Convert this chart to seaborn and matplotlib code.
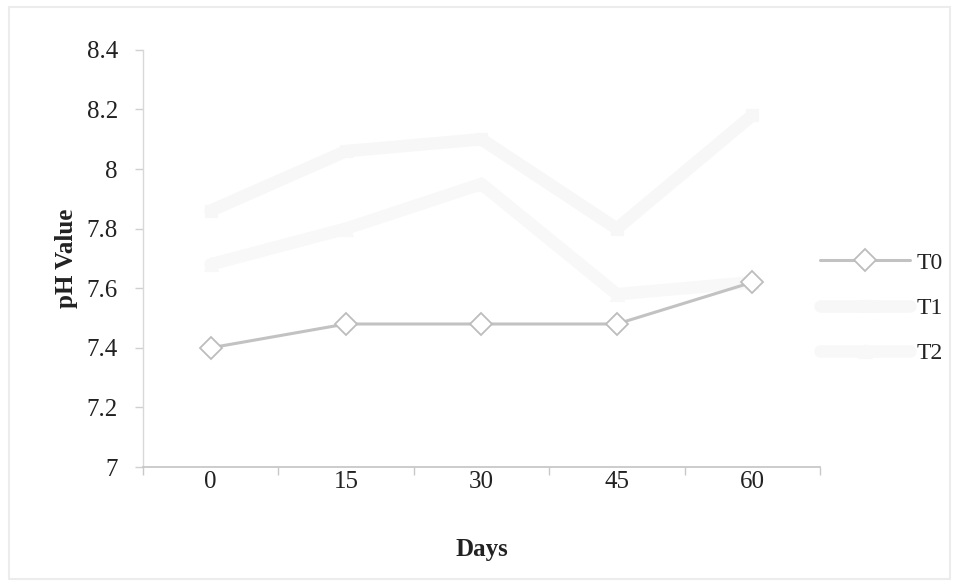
import matplotlib
matplotlib.use("Agg")
import matplotlib.pyplot as plt
import matplotlib.ticker as mticker
import numpy as np
import pandas as pd
import seaborn as sns

# Sampling days and measured pH per treatment
days = ["0", "15", "30", "45", "60"]
t0_ph = [7.40, 7.48, 7.48, 7.48, 7.62]
t1_ph = [7.86, 8.06, 8.10, 7.80, 8.18]
t2_ph = [7.68, 7.80, 7.95, 7.58, 7.62]
y_ticks = [7.0, 7.2, 7.4, 7.6, 7.8, 8.0, 8.2, 8.4]

series = {"T0": t0_ph, "T1": t1_ph, "T2": t2_ph}
frames = []
for name, vals in series.items():
    frames.append(pd.DataFrame({"pos": np.arange(len(days)), "Days": days,
                                "pH": vals, "Treatment": name}))
df = pd.concat(frames, ignore_index=True)

sns.set_theme(style="white")
plt.rcParams["font.family"] = ["Liberation Serif", "DejaVu Serif"]

fig = plt.figure(figsize=(9.59, 5.86), dpi=100)
fig.patch.set_facecolor("white")
ax = fig.add_axes([0.149, 0.203, 0.706, 0.712])

styles = {
    "T0": dict(color="#c2c2c2", marker="D", markersize=11, linewidth=2.2,
               markerfacecolor="white", markeredgecolor="#bdbdbd",
               markeredgewidth=1.3),
    "T1": dict(color="#f7f7f7", marker="s", markersize=9, linewidth=9,
               markerfacecolor="#f7f7f7", markeredgecolor="#f7f7f7"),
    "T2": dict(color="#f8f8f8", marker="^", markersize=10, linewidth=9,
               markerfacecolor="#f8f8f8", markeredgecolor="#f8f8f8"),
}
for name in ["T2", "T1", "T0"]:
    sub = df[df["Treatment"] == name]
    sns.lineplot(data=sub, x="pos", y="pH", ax=ax, label=name, **styles[name])

ax.set_xlim(-0.5, len(days) - 0.5)
ax.set_ylim(y_ticks[0], y_ticks[-1])
ax.set_yticks(y_ticks)
ax.yaxis.set_major_formatter(mticker.FuncFormatter(lambda v, p: f"{v:g}"))
ax.set_xticks(np.arange(len(days)))
ax.set_xticklabels(days)
ax.set_xticks(np.arange(-0.5, len(days)), minor=True)

ax.tick_params(axis="x", which="major", length=0, pad=3, labelsize=18,
               labelcolor="#222222")
ax.tick_params(axis="x", which="minor", length=6, width=1, color="#c8c8c8",
               direction="out", bottom=True)
ax.tick_params(axis="y", which="major", length=6, width=1, color="#d0d0d0",
               direction="out", left=True, pad=12, labelsize=18,
               labelcolor="#222222")

for side in ["top", "right"]:
    ax.spines[side].set_visible(False)
ax.spines["left"].set_color("#d8d8d8")
ax.spines["bottom"].set_color("#c4c4c4")
ax.spines["left"].set_linewidth(1)
ax.spines["bottom"].set_linewidth(1.2)

ax.set_xlabel("Days", fontsize=18, fontweight="bold", color="#222222",
              labelpad=32)
ax.set_ylabel("pH Value", fontsize=18, fontweight="bold", color="#222222",
              labelpad=6)

handles, labels = ax.get_legend_handles_labels()
order = [labels.index(n) for n in ["T0", "T1", "T2"]]
ax.legend([handles[i] for i in order], [labels[i] for i in order],
          loc="center left", bbox_to_anchor=(1.0, 0.381), frameon=False,
          fontsize=17, handlelength=3.8, labelspacing=1.0,
          handletextpad=0.3, borderaxespad=0, borderpad=0,
          labelcolor="#222222")

# Light chart-area border
fig.add_artist(plt.Rectangle((0.009, 0.012), 0.982, 0.976,
                             transform=fig.transFigure, fill=False,
                             edgecolor="#ececec", linewidth=1.5))

fig.savefig("out.png", dpi=100, facecolor="white")
